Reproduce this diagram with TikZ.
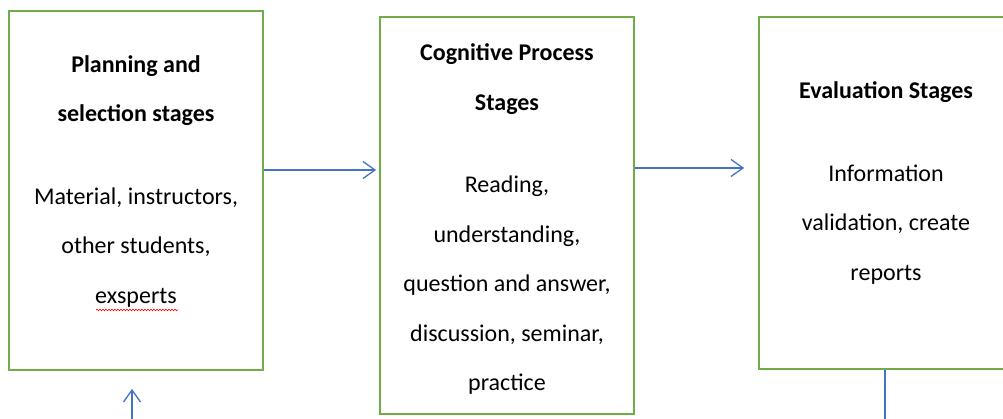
\documentclass[tikz,border=0pt]{standalone}
\usepackage{fontspec}
\setmainfont{Carlito}
\usetikzlibrary{arrows.meta,decorations.pathmorphing}
\definecolor{boxgreen}{RGB}{112,173,71}
\definecolor{arrowblue}{RGB}{68,114,196}

\begin{document}
\begin{tikzpicture}[x=1pt,y=1pt,
  stage node/.style={rectangle,draw=boxgreen,line width=1.8pt,minimum width=254pt,inner sep=0pt},
  text node/.style={align=center,inner sep=0pt,font=\fontsize{24}{49.5}\selectfont},
  flow/.style={draw=arrowblue,line width=1.3pt,-{Straight Barb[length=12pt,width=17pt]}}]

  \useasboundingbox (0,0) rectangle (1003,419);
  \clip (0,0) rectangle (1003,419);

  \node[stage node,minimum height=359pt] (plan) at (136,228.5) {};
  \node[stage node,minimum height=397pt] (cog) at (507,203.5) {};
  \node[stage node,minimum width=256pt,minimum height=352pt] (eval) at (887,226) {};

  \node[text node] (plantext) at (136,237.5) {\textbf{Planning and}\\\textbf{selection stages}\\[33pt]Material, instructors,\\other students,\\exsperts};
  \node[text node] (cogtext) at (507,199.5) {\textbf{Cognitive Process}\\\textbf{Stages}\\[33pt]Reading,\\understanding,\\question and answer,\\discussion, seminar,\\practice};
  \node[text node] (evaltext) at (886,236) {\textbf{Evaluation Stages}\\[33pt]Information\\validation, create\\reports};

  % spell-check mark
  \draw[red,line width=0.6pt,decorate,decoration={snake,amplitude=0.8pt,segment length=3pt}] (96,109) -- (178,109);

  \coordinate (feedin) at (132,-5);
  \coordinate (feedout) at (885,-5);

\begin{scope}
  \draw[flow,shorten >=3pt] ([yshift=20.5pt]plan.east) -- ([yshift=45.5pt]cog.west);
  \draw[flow,shorten >=14pt] ([yshift=47.5pt]cog.east) -- ([yshift=25pt]eval.west);
  \draw[flow,shorten >=18pt] (feedin) -- (feedin |- plan.south);
  \draw[arrowblue,line width=1.3pt] (feedout |- eval.south) -- (feedout);
\end{scope}
\end{tikzpicture}
\end{document}
